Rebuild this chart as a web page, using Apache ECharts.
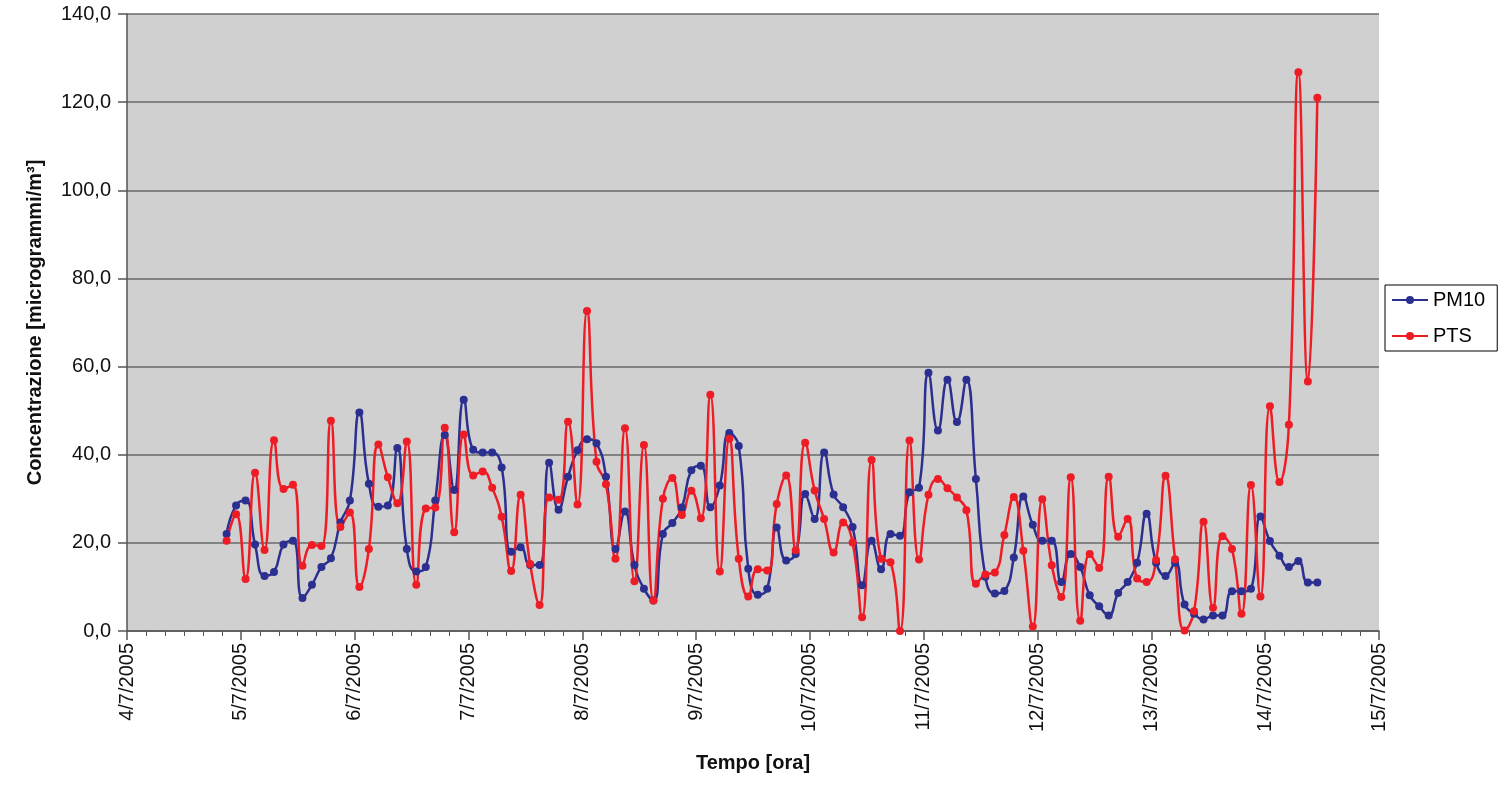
<!DOCTYPE html>
<html>
<head>
<meta charset="utf-8">
<script src="https://cdn.jsdelivr.net/npm/echarts@6/dist/echarts.min.js"></script>
<style>
html,body{margin:0;padding:0;background:#fff;}
#chart{width:1507px;height:785px;}
</style>
</head>
<body>
<div id="chart"></div>
<script>
// Sampling times (day/month hour)
const times = [
 "04/07 21:00","04/07 23:00",
 "05/07 01:00","05/07 03:00","05/07 05:00","05/07 07:00","05/07 09:00","05/07 11:00","05/07 13:00","05/07 15:00","05/07 17:00","05/07 19:00","05/07 21:00","05/07 23:00",
 "06/07 01:00","06/07 03:00","06/07 05:00","06/07 07:00","06/07 09:00","06/07 11:00","06/07 13:00","06/07 15:00","06/07 17:00","06/07 19:00","06/07 21:00","06/07 23:00",
 "07/07 01:00","07/07 03:00","07/07 05:00","07/07 07:00","07/07 09:00","07/07 11:00","07/07 13:00","07/07 15:00","07/07 17:00","07/07 19:00","07/07 21:00","07/07 23:00",
 "08/07 01:00","08/07 03:00","08/07 05:00","08/07 07:00","08/07 09:00","08/07 11:00","08/07 13:00","08/07 15:00","08/07 17:00","08/07 19:00","08/07 21:00","08/07 23:00",
 "09/07 01:00","09/07 03:00","09/07 05:00","09/07 07:00","09/07 09:00","09/07 11:00","09/07 13:00","09/07 15:00","09/07 17:00","09/07 19:00","09/07 21:00","09/07 23:00",
 "10/07 01:00","10/07 03:00","10/07 05:00","10/07 07:00","10/07 09:00","10/07 11:00","10/07 13:00","10/07 15:00","10/07 17:00","10/07 19:00","10/07 21:00","10/07 23:00",
 "11/07 01:00","11/07 03:00","11/07 05:00","11/07 07:00","11/07 09:00","11/07 11:00","11/07 13:00","11/07 15:00","11/07 17:00","11/07 19:00","11/07 21:00","11/07 23:00",
 "12/07 01:00","12/07 03:00","12/07 05:00","12/07 07:00","12/07 09:00","12/07 11:00","12/07 13:00","12/07 15:00","12/07 17:00","12/07 19:00","12/07 21:00","12/07 23:00",
 "13/07 01:00","13/07 03:00","13/07 05:00","13/07 07:00","13/07 09:00","13/07 11:00","13/07 13:00","13/07 15:00","13/07 17:00","13/07 19:00","13/07 21:00","13/07 23:00",
 "14/07 01:00","14/07 03:00","14/07 05:00","14/07 07:00","14/07 09:00","14/07 11:00"
];

const pm10 = [
 22.0,28.5,29.6,19.6,12.5,13.4,19.6,20.5,7.5,10.5,14.5,16.5,24.6,29.6,49.6,33.4,28.2,28.5,41.5,18.6,13.5,
 14.5,29.6,44.5,32.0,52.5,41.1,40.5,40.5,37.1,18.0,19.0,15.0,15.0,38.2,27.5,35.0,41.0,43.5,42.6,35.0,18.6,27.1,
 15.0,9.6,6.9,22.0,24.5,28.0,36.5,37.5,28.1,33.0,44.9,42.0,14.1,8.2,9.6,23.5,16.0,17.5,31.1,25.4,40.5,31.0,
 28.1,23.6,10.4,20.5,14.0,22.0,21.6,31.5,32.5,58.6,45.5,57.0,47.4,57.0,34.5,12.3,8.5,9.1,16.7,30.5,24.1,20.5,
 20.5,11.1,17.5,14.5,8.1,5.6,3.5,8.6,11.1,15.5,26.6,15.5,12.5,15.5,6.0,3.9,2.6,3.5,3.5,9.0,9.0,9.6,26.0,
 20.4,17.1,14.5,15.9,11.0,11.0
];

const pts = [
 20.5,26.5,11.8,35.9,18.4,43.3,32.2,33.2,14.8,19.5,19.3,47.7,23.6,26.9,10.0,18.6,42.3,34.9,29.0,43.0,10.5,
 27.8,28.0,46.1,22.4,44.6,35.3,36.2,32.5,25.9,13.6,30.9,15.2,5.9,30.3,29.8,47.5,28.7,72.6,38.4,33.3,16.4,46.0,
 11.3,42.2,6.9,30.0,34.7,26.3,31.8,25.6,53.6,13.5,43.6,16.4,7.8,14.0,13.7,28.8,35.3,18.3,42.7,31.9,25.4,17.8,
 24.6,20.1,3.1,38.8,16.4,15.6,0.0,43.2,16.2,30.9,34.5,32.4,30.3,27.4,10.7,12.8,13.3,21.8,30.4,18.2,1.0,29.9,
 14.9,7.7,34.9,2.3,17.5,14.3,35.0,21.4,25.4,11.9,11.1,16.1,35.2,16.3,0.1,4.5,24.8,5.3,21.5,18.6,3.9,33.1,7.8,
 51.0,33.8,46.8,126.8,56.6,121.0
];

const xTickLabels = ["4/7/2005","5/7/2005","6/7/2005","7/7/2005","8/7/2005","9/7/2005","10/7/2005","11/7/2005","12/7/2005","13/7/2005","14/7/2005","15/7/2005"];
const yTicks = [0,20,40,60,80,100,120,140];

// hours since 4/7/2005 00:00
function toHours(s){
  const d = parseInt(s.slice(0,2),10);
  const h = parseInt(s.slice(6,8),10);
  return (d-4)*24 + h;
}
const xs = times.map(toHours);
const pmData = xs.map((x,i)=>[x,pm10[i]]);
const ptsData = xs.map((x,i)=>[x,pts[i]]);

const FONT = '"Liberation Sans", Arial, sans-serif';
const chart = echarts.init(document.getElementById('chart'), null, {renderer:'canvas'});
chart.setOption({
  animation:false,
  backgroundColor:'#ffffff',
  textStyle:{fontFamily:FONT},
  grid:{left:127, right:128, top:14, bottom:154, show:true, backgroundColor:'#d0d0d0', borderWidth:0},
  legend:{
    orient:'vertical', left:1385, top:285,
    backgroundColor:'#ffffff', borderColor:'#000000', borderWidth:1,
    padding:[5,12,5,6], itemGap:16, itemWidth:36, itemHeight:10,
    textStyle:{fontFamily:FONT, fontSize:20, color:'#000'},
    data:['PM10','PTS']
  },
  xAxis:{
    type:'value', min:0, max:264, interval:24,
    name:'Tempo [ora]', nameLocation:'middle', nameGap:122,
    nameTextStyle:{fontFamily:FONT, fontSize:20, fontWeight:'bold', color:'#111'},
    axisLine:{show:true, lineStyle:{color:'#555', width:1.5}},
    axisTick:{show:true, length:9, lineStyle:{color:'#555', width:1.5}},
    minorTick:{show:true, splitNumber:6, length:5, lineStyle:{color:'#555', width:1}},
    splitLine:{show:false},
    axisLabel:{
      rotate:90, margin:12, fontSize:20, color:'#111', fontFamily:FONT,
      formatter:function(v){ return xTickLabels[Math.round(v/24)]; }
    }
  },
  yAxis:{
    type:'value', min:0, max:140, interval:20,
    name:'Concentrazione [microgrammi/m³]', nameLocation:'middle', nameGap:82,
    nameTextStyle:{fontFamily:FONT, fontSize:20, fontWeight:'bold', color:'#111'},
    axisLine:{show:true, lineStyle:{color:'#555', width:1.5}},
    axisTick:{show:true, length:9, lineStyle:{color:'#555', width:1.5}},
    splitLine:{show:true, lineStyle:{color:'#6a6a6a', width:1.5}},
    axisLabel:{
      margin:16, fontSize:20, color:'#111', fontFamily:FONT,
      formatter:function(v){ return v.toFixed(1).replace('.', ','); }
    }
  },
  series:[
    {
      name:'PM10', type:'line', data:pmData, smooth:0.5,
      symbol:'circle', symbolSize:8,
      itemStyle:{color:'#2b2f8f'},
      lineStyle:{color:'#2b2f8f', width:2.5}
    },
    {
      name:'PTS', type:'line', data:ptsData, smooth:0.5,
      symbol:'circle', symbolSize:8,
      itemStyle:{color:'#ee1c25'},
      lineStyle:{color:'#ee1c25', width:2.5}
    }
  ]
});
</script>
</body>
</html>
